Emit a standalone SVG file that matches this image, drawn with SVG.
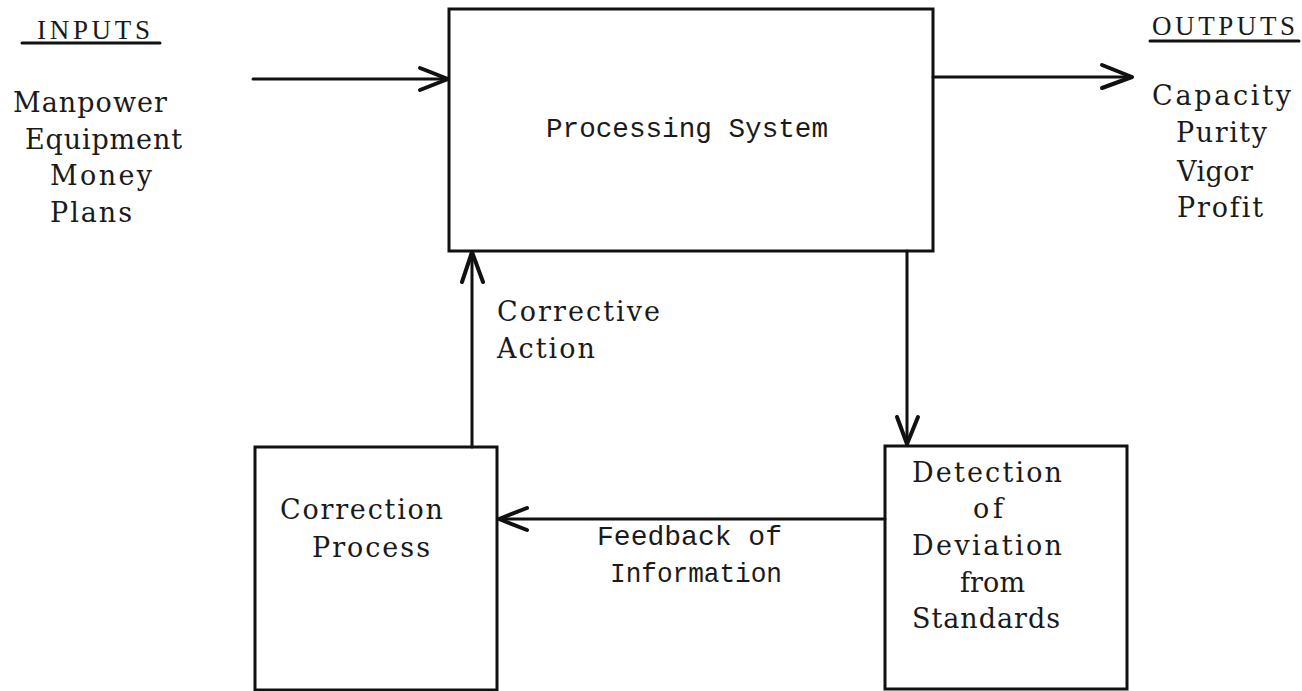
<svg xmlns="http://www.w3.org/2000/svg" width="1302" height="691" viewBox="0 0 1302 691">
<style>
.box{fill:none;stroke:#111;stroke-width:3}
.ln{fill:none;stroke:#111;stroke-width:3;stroke-linecap:round;stroke-linejoin:round}
.hd{fill:none;stroke:#111;stroke-width:4;stroke-linecap:round;stroke-linejoin:round}
text{fill:#1a1a1a;font-variant-ligatures:none}
.slab{font-family:"DejaVu Serif","Liberation Serif",serif;font-size:27px}
.mono{font-family:"Liberation Mono","DejaVu Sans Mono",monospace;font-size:28px}
.cap{font-family:"Liberation Serif","DejaVu Serif",serif;font-size:27px}
</style>
<rect width="1302" height="691" fill="#fff"/>
<g id="inputs">
<text class="cap" x="37" y="39" textLength="113" lengthAdjust="spacing">INPUTS</text>
<line class="ln" x1="22" y1="43" x2="160" y2="43" stroke-width="2.5"/>
<text class="slab" x="13" y="112" textLength="154" lengthAdjust="spacing">Manpower</text>
<text class="slab" x="25" y="149" textLength="157" lengthAdjust="spacing">Equipment</text>
<text class="slab" x="50" y="185" textLength="102" lengthAdjust="spacing">Money</text>
<text class="slab" x="50" y="222" textLength="82" lengthAdjust="spacing">Plans</text>
</g>
<g id="outputs">
<text class="cap" x="1152" y="35" textLength="143" lengthAdjust="spacing">OUTPUTS</text>
<line class="ln" x1="1150" y1="41" x2="1299" y2="41" stroke-width="2.5"/>
<text class="slab" x="1152" y="105" textLength="139" lengthAdjust="spacing">Capacity</text>
<text class="slab" x="1176" y="142" textLength="91" lengthAdjust="spacing">Purity</text>
<text class="slab" x="1177" y="181" textLength="76" lengthAdjust="spacing">Vigor</text>
<text class="slab" x="1177" y="217" textLength="86" lengthAdjust="spacing">Profit</text>
</g>
<g id="processing">
<rect class="box" x="449" y="9" width="484" height="242"/>
<text class="mono" x="546" y="137" textLength="282" lengthAdjust="spacingAndGlyphs">Processing System</text>
</g>
<g id="correction">
<rect class="box" x="255" y="447" width="242" height="243"/>
<text class="slab" x="280" y="519" textLength="163" lengthAdjust="spacing">Correction</text>
<text class="slab" x="312" y="557" textLength="118" lengthAdjust="spacing">Process</text>
</g>
<g id="detection">
<rect class="box" x="885" y="446" width="242" height="243"/>
<text class="slab" x="912" y="482" textLength="150" lengthAdjust="spacing">Detection</text>
<text class="slab" x="973" y="518" textLength="30" lengthAdjust="spacing">of</text>
<text class="slab" x="912" y="555" textLength="150" lengthAdjust="spacing">Deviation</text>
<text class="slab" x="960" y="592" textLength="65" lengthAdjust="spacing">from</text>
<text class="slab" x="912" y="628" textLength="148" lengthAdjust="spacing">Standards</text>
</g>
<g id="connectors">
<line class="ln" x1="253" y1="79" x2="448" y2="79"/>
<polyline class="hd" points="420,68 448,79 420,90"/>
<line class="ln" x1="933" y1="77" x2="1132" y2="77"/>
<polyline class="hd" points="1102,65 1132,77 1102,88"/>
<line class="ln" x1="472" y1="447" x2="472" y2="252"/>
<polyline class="hd" points="462,282 472,252 483,282"/>
<text class="slab" x="497" y="321" textLength="163" lengthAdjust="spacing">Corrective</text>
<text class="slab" x="497" y="358" textLength="98" lengthAdjust="spacing">Action</text>
<line class="ln" x1="907" y1="251" x2="907" y2="444"/>
<polyline class="hd" points="897,417 907,444 918,417"/>
<line class="ln" x1="885" y1="519" x2="499" y2="519"/>
<polyline class="hd" points="527,508 499,519 527,530"/>
<text class="mono" x="597" y="545" textLength="185" lengthAdjust="spacingAndGlyphs">Feedback of</text>
<text class="mono" x="610" y="582" textLength="172" lengthAdjust="spacingAndGlyphs">Information</text>
</g>
</svg>
